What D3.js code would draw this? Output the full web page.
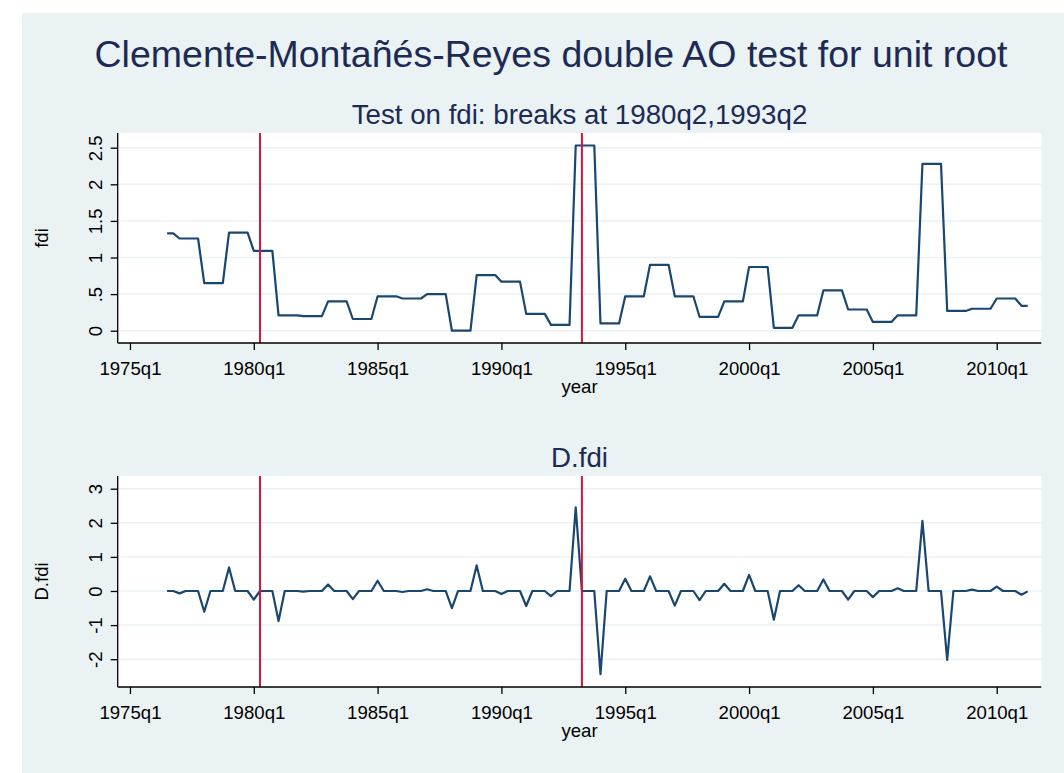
<!DOCTYPE html>
<html>
  <head>
    <title>CMR double AO test</title>
    <meta charset='utf-8' />
    <script src="https://cdn.jsdelivr.net/npm/d3@7"></script>
    <style>
    body { margin: 0; background: #fff; }
    svg text { font-family: "Liberation Sans", Arial, sans-serif; }
    .grid line { stroke: #eaf2f3; stroke-width: 1.5px; }
    .series { fill: none; stroke: #1a476f; stroke-width: 2.2px; stroke-linejoin: round; }
    .brk { stroke: #d4163f; stroke-width: 2px; }
    .ttl { fill: #1c2b55; }
    </style>
  </head>
<body>
<svg id="chart" width="1064" height="773"></svg>
<script type="text/javascript">

// first observation of both series
var startQ = "1976q3";

// fdi, one value per quarter from 1976q3 to 2011q2
var fdi = [
  1.33, 1.33,               // 1976
  1.26, 1.26, 1.26, 1.26,   // 1977
  0.65, 0.65, 0.65, 0.65,   // 1978
  1.34, 1.34, 1.34, 1.34,   // 1979
  1.09, 1.09, 1.09, 1.09,   // 1980
  0.21, 0.21, 0.21, 0.21,   // 1981
  0.20, 0.20, 0.20, 0.20,   // 1982
  0.40, 0.40, 0.40, 0.40,   // 1983
  0.16, 0.16, 0.16, 0.16,   // 1984
  0.47, 0.47, 0.47, 0.47,   // 1985
  0.44, 0.44, 0.44, 0.44,   // 1986
  0.50, 0.50, 0.50, 0.50,   // 1987
  0.00, 0.00, 0.00, 0.00,   // 1988
  0.76, 0.76, 0.76, 0.76,   // 1989
  0.67, 0.67, 0.67, 0.67,   // 1990
  0.23, 0.23, 0.23, 0.23,   // 1991
  0.08, 0.08, 0.08, 0.08,   // 1992
  2.53, 2.53, 2.53, 2.53,   // 1993
  0.10, 0.10, 0.10, 0.10,   // 1994
  0.47, 0.47, 0.47, 0.47,   // 1995
  0.90, 0.90, 0.90, 0.90,   // 1996
  0.47, 0.47, 0.47, 0.47,   // 1997
  0.19, 0.19, 0.19, 0.19,   // 1998
  0.40, 0.40, 0.40, 0.40,   // 1999
  0.87, 0.87, 0.87, 0.87,   // 2000
  0.04, 0.04, 0.04, 0.04,   // 2001
  0.21, 0.21, 0.21, 0.21,   // 2002
  0.55, 0.55, 0.55, 0.55,   // 2003
  0.29, 0.29, 0.29, 0.29,   // 2004
  0.12, 0.12, 0.12, 0.12,   // 2005
  0.21, 0.21, 0.21, 0.21,   // 2006
  2.28, 2.28, 2.28, 2.28,   // 2007
  0.27, 0.27, 0.27, 0.27,   // 2008
  0.30, 0.30, 0.30, 0.30,   // 2009
  0.44, 0.44, 0.44, 0.44,   // 2010
  0.34, 0.34                // 2011
];

// D.fdi, same quarters
var dfdi = [
  0, 0,                     // 1976
  -0.07, 0, 0, 0,           // 1977
  -0.61, 0, 0, 0,           // 1978
  0.69, 0, 0, 0,            // 1979
  -0.25, 0, 0, 0,           // 1980
  -0.88, 0, 0, 0,           // 1981
  -0.02, 0, 0, 0,           // 1982
  0.19, 0, 0, 0,            // 1983
  -0.24, 0, 0, 0,           // 1984
  0.30, 0, 0, 0,            // 1985
  -0.03, 0, 0, 0,           // 1986
  0.05, 0, 0, 0,            // 1987
  -0.50, 0, 0, 0,           // 1988
  0.75, 0, 0, 0,            // 1989
  -0.09, 0, 0, 0,           // 1990
  -0.44, 0, 0, 0,           // 1991
  -0.15, 0, 0, 0,           // 1992
  2.45, 0, 0, 0,            // 1993
  -2.44, 0, 0, 0,           // 1994
  0.36, 0, 0, 0,            // 1995
  0.43, 0, 0, 0,            // 1996
  -0.43, 0, 0, 0,           // 1997
  -0.27, 0, 0, 0,           // 1998
  0.21, 0, 0, 0,            // 1999
  0.47, 0, 0, 0,            // 2000
  -0.84, 0, 0, 0,           // 2001
  0.17, 0, 0, 0,            // 2002
  0.34, 0, 0, 0,            // 2003
  -0.25, 0, 0, 0,           // 2004
  -0.18, 0, 0, 0,           // 2005
  0.08, 0, 0, 0,            // 2006
  2.06, 0, 0, 0,            // 2007
  -2.02, 0, 0, 0,           // 2008
  0.04, 0, 0, 0,            // 2009
  0.13, 0, 0, 0,            // 2010
  -0.11, -0.01              // 2011
];

var breaks = ["1980q2", "1993q2"];
var xTicks = ["1975q1", "1980q1", "1985q1", "1990q1", "1995q1", "2000q1", "2005q1", "2010q1"];
var fdiTicks = [0, 0.5, 1, 1.5, 2, 2.5];
var dfdiTicks = [-2, -1, 0, 1, 2, 3];

var mainTitle = "Clemente-Montañés-Reyes double AO test for unit root";
var topTitle = "Test on fdi: breaks at " + breaks.join(",");

// stata quarterly index, 1960q1 = 0
function qIndex(s) {
  var p = s.split("q");
  return (+p[0] - 1960) * 4 + (+p[1] - 1);
}
function qLabel(q) {
  return (1960 + Math.floor(q / 4)) + "q" + (q % 4 + 1);
}
function yLabel(v) {
  var s = String(v);
  return s.replace(/^0\./, ".").replace(/^-0\./, "-.");
}

var svg = d3.select("#chart");
svg.append("rect").attr("x", 22).attr("y", 13).attr("width", 1042).attr("height", 760).attr("fill", "#eaf2f3");

svg.append("text").attr("class", "ttl")
  .attr("x", 551).attr("y", 66.5)
  .attr("text-anchor", "middle")
  .style("font-size", "37.5px")
  .text(mainTitle);

var left = 117.7, right = 1041.3;
var x = d3.scaleLinear().domain([58.02, 207.2]).range([left, right]);
var q0 = qIndex(startQ);

function panel(cfg) {
  var y = d3.scaleLinear().domain(cfg.domain).range([cfg.bottom, cfg.top]);
  var g = svg.append("g");

  g.append("rect").attr("x", left).attr("y", cfg.top)
    .attr("width", right - left).attr("height", cfg.bottom - cfg.top).attr("fill", "#fff");

  g.append("g").attr("class", "grid").selectAll("line")
    .data(cfg.ticks).enter().append("line")
    .attr("x1", left).attr("x2", right)
    .attr("y1", function(d) { return y(d); }).attr("y2", function(d) { return y(d); });

  var line = d3.line()
    .x(function(d, i) { return x(q0 + i); })
    .y(function(d) { return y(d); });
  g.append("path").attr("class", "series").attr("d", line(cfg.values));

  g.selectAll("line.brk")
    .data(breaks).enter().append("line").attr("class", "brk")
    .attr("x1", function(d) { return x(qIndex(d)); }).attr("x2", function(d) { return x(qIndex(d)); })
    .attr("y1", cfg.top).attr("y2", cfg.bottom);

  // x axis
  var xa = g.append("g").attr("transform", "translate(0," + cfg.bottom + ")")
    .call(d3.axisBottom(x).tickValues(xTicks.map(qIndex)).tickFormat(qLabel).tickSize(7).tickPadding(6));
  xa.select(".domain").attr("d", "M" + left + ",0H" + right);
  xa.selectAll("text").style("font-size", "18.6px").attr("fill", "#000").attr("dy", null).attr("y", 31.5);
  xa.selectAll("line, path").attr("stroke", "#000").attr("stroke-width", 1.3);

  // y axis
  var ya = g.append("g").attr("transform", "translate(" + left + ",0)")
    .call(d3.axisLeft(y).tickValues(cfg.ticks).tickFormat(yLabel).tickSize(7));
  ya.select(".domain").attr("d", "M0," + cfg.top + "V" + cfg.bottom);
  ya.selectAll("line, path").attr("stroke", "#000").attr("stroke-width", 1.3);
  ya.selectAll("text")
    .attr("x", null).attr("dy", null)
    .attr("text-anchor", "middle").attr("fill", "#000")
    .style("font-size", "18.6px")
    .attr("transform", "translate(-15.7,0) rotate(-90)");

  g.append("text")
    .attr("transform", "translate(48," + ((cfg.top + cfg.bottom) / 2) + ") rotate(-90)")
    .attr("text-anchor", "middle").style("font-size", "18.6px")
    .text(cfg.yTitle);

  g.append("text")
    .attr("x", (left + right) / 2).attr("y", cfg.bottom + 49.7)
    .attr("text-anchor", "middle").style("font-size", "18.6px")
    .text("year");

  g.append("text").attr("class", "ttl")
    .attr("x", (left + right) / 2).attr("y", cfg.top - 8.7)
    .attr("text-anchor", "middle").style("font-size", "27.7px")
    .text(cfg.title);
}

panel({ top: 133, bottom: 343, domain: [-0.168, 2.701], ticks: fdiTicks, values: fdi, yTitle: "fdi", title: topTitle });
panel({ top: 476, bottom: 687, domain: [-2.815, 3.372], ticks: dfdiTicks, values: dfdi, yTitle: "D.fdi", title: "D.fdi" });

</script>
</body>
</html>
